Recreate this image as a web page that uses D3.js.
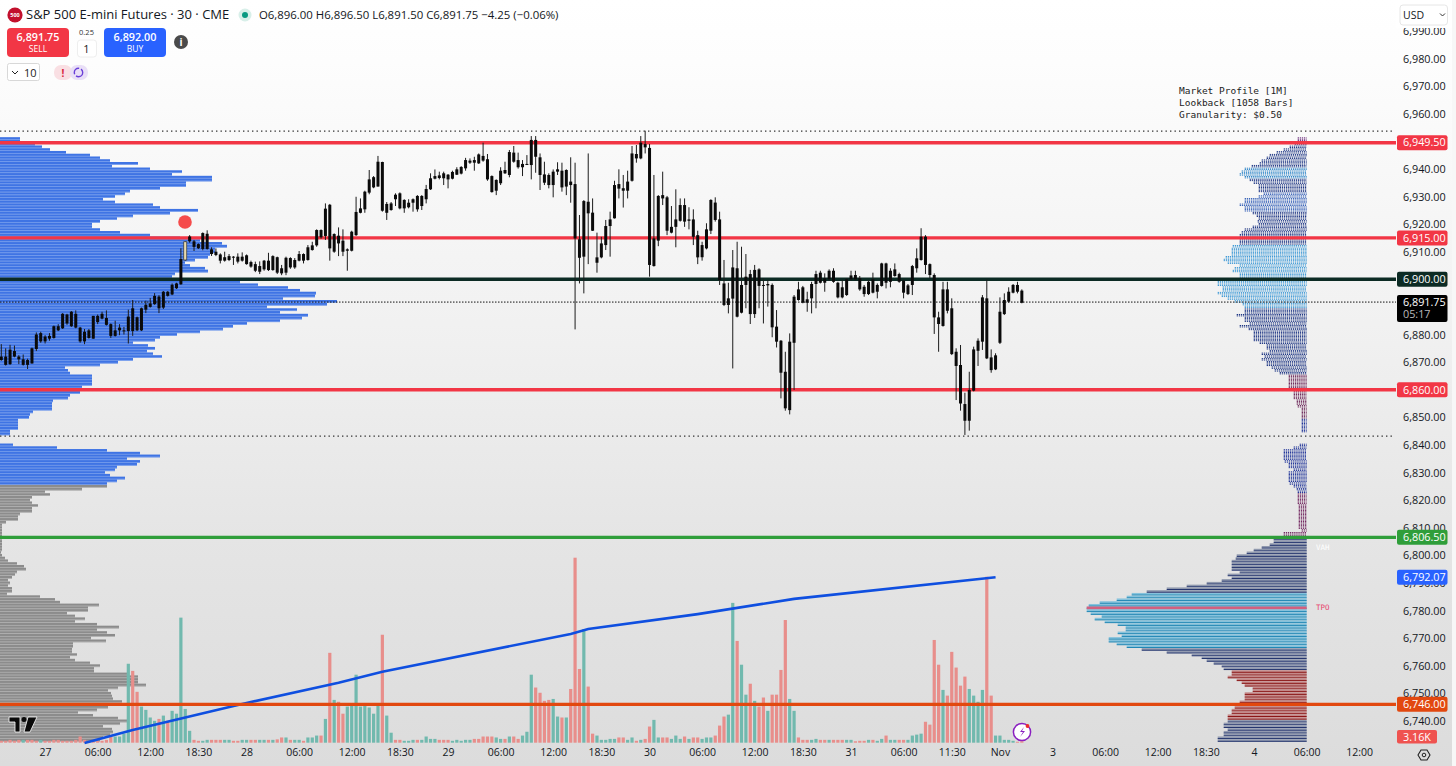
<!DOCTYPE html>
<html>
<head>
<meta charset="utf-8">
<script src="https://cdn.jsdelivr.net/npm/d3@7"></script>
<style>
html, body { margin: 0; padding: 0; background: #fff; overflow: hidden; }
svg text { font-family: "Open Sans", "Noto Sans", sans-serif; }
svg .mono { font-family: "DejaVu Sans Mono", monospace; }
</style>
</head>
<body>
<div id="chart"></div>
<script>
// 30 minute bars, index 0 is the left most bar on the picture
var highs = [6876.5,6875,6876.25,6876,6872.5,6872.75,6871.25,6875.25,6880.75,6881,6879.75,6880.5,6883.25,6883.75,6887.75,6887.5,6888.5,6888.75,6882.75,6882,
6882,6886.75,6887.25,6888.25,6888.75,6884,6885,6883.75,6882.75,6889,6892.5,6886.5,6889.75,6892.25,6893.25,6895,6894.25,6895.75,6895.75,6898.5,
6898.75,6911.25,6913.75,6916,6914.25,6913,6917,6917.75,6911.6,6911.2,6909.4,6910,6909.15,6908.4,6909.4,6909.75,6909,6906.75,6906.4,6906.5,
6907,6909.6,6908.7,6908.2,6905.2,6908.2,6908,6907.7,6910.25,6909.4,6912.4,6913.6,6918.1,6918.1,6927.5,6927.3,6916.65,6918.8,6918.1,6911.2,
6917.6,6929.9,6929.3,6932.1,6939.6,6937.4,6944.7,6942.6,6928,6928,6931.15,6931.5,6929,6929,6929.3,6930.5,6930.5,6934.2,6938.4,6939.8,
6939,6939,6938.15,6939.35,6940.6,6941,6944,6943.8,6944.4,6945.6,6949.5,6945.4,6937.65,6936.2,6940.6,6942.6,6946.85,6948.3,6945.9,6943.2,
6945,6951.9,6951.9,6945.6,6942.6,6938.4,6939.8,6942.4,6942.25,6939.85,6944.2,6942.25,6923.3,6928.7,6945.6,6929.3,6916.9,6915.4,6921.5,6924.5,
6935.7,6939.85,6937.8,6939.35,6948.3,6948.65,6951.9,6953.85,6949,6937.8,6930.5,6939,6930.2,6926.55,6932.6,6929.3,6929.3,6926.1,6925.35,6917.6,
6913.6,6920.3,6929,6929.7,6924.5,6907,6898.75,6910.6,6913.6,6911.8,6909.15,6903.4,6905.2,6904,6900.35,6899.75,6898.5,6888.85,6878,6873.75,
6880.4,6894.3,6899.1,6897.6,6895.5,6899.1,6903.1,6903.1,6902.15,6903.6,6904,6899.1,6899.75,6900.35,6903.1,6903.1,6901.2,6897.95,6899.75,6902.4,
6898.5,6906,6906,6904,6905.75,6902.4,6900,6898.3,6905.2,6911.2,6918.5,6916,6905.75,6902.15,6888.25,6899.1,6899.1,6893.1,6875,6876.2,
6858.9,6866.5,6875.6,6878.6,6894.3,6900,6874.6,6873.2,6893.45,6894.9,6897.1,6898.3,6899.1,6896.35];
var lows = [6870.5,6868.75,6869,6871.75,6869.25,6868.75,6867.5,6869.5,6874,6877,6876.75,6877.75,6878.5,6881.25,6882,6883.5,6882.75,6882.25,6877,6876.5,
6878.5,6878.5,6883.75,6885.5,6883.25,6878.75,6879.25,6879.75,6880,6876.75,6879.5,6881.25,6881.25,6887.75,6889.75,6890.75,6887.75,6889.25,6893.75,6894.25,
6896.5,6898,6906.75,6913.25,6910.25,6911,6910.5,6910.75,6908.45,6908.4,6905.75,6906.4,6906.6,6905.2,6905.75,6906.4,6905.3,6904.2,6902.6,6901.9,
6903.1,6903,6903.1,6901.9,6901.5,6901.5,6903.8,6903.8,6906.5,6905.75,6906.75,6910.4,6911.8,6914.7,6914.25,6906.75,6909.6,6908.4,6908.4,6903.1,
6910.1,6915.7,6923.9,6924.1,6930.8,6933,6933.6,6924.5,6921.5,6924.85,6926.55,6925.35,6924.1,6925.7,6924.5,6924.5,6925.1,6927.5,6932.35,6936.2,
6936.2,6934.15,6932.95,6936.2,6937.8,6938,6939.35,6941.8,6939.35,6941.8,6942.6,6935.7,6931.4,6930.5,6934.15,6938.15,6936.95,6942.25,6940.1,6937.4,
6941.4,6936.2,6938.6,6932.35,6934.15,6932.95,6929.7,6937.8,6931.75,6930.5,6927.75,6881.85,6898.5,6894.9,6905.5,6917.5,6902.4,6907.6,6910.6,6908.2,
6922,6929.3,6926,6929.3,6935.4,6942.25,6943.5,6945.6,6900.95,6904.6,6912,6926.9,6916,6916.65,6911.6,6920.9,6919,6918.1,6912.4,6905.5,
6906.75,6910.85,6916.4,6920.9,6897.95,6890.3,6887.65,6867.7,6886.2,6887.65,6889.5,6883.8,6886,6889.5,6884,6890.1,6879,6875.3,6856.85,6852.4,
6851.05,6859.9,6892.25,6891.3,6888.25,6887.65,6889.5,6898.5,6895.5,6899.5,6898.75,6893.1,6893.1,6894,6899.5,6899.5,6895.85,6893.7,6894.3,6894.9,
6893.1,6897.35,6896.7,6897.1,6900.95,6898.75,6893.1,6894.3,6894.3,6902.4,6906.75,6901.9,6900.35,6880.2,6873.75,6882.85,6887.65,6872.55,6856.25,6852.4,
6843.6,6845.15,6859.4,6868.6,6874.4,6871.1,6866.15,6867.1,6876.55,6887.05,6891.5,6894.9,6894.9,6891.3];
var bodyHighs = [6872,6872,6874.5,6874,6872,6871,6870.75,6875,6880,6880.5,6879.25,6879.5,6883,6883,6887.5,6887.25,6888.25,6887.5,6882.5,6881,
6881.5,6886.75,6886.75,6887.5,6886,6883.75,6881.5,6882.5,6881.5,6886.5,6889.5,6886.25,6889.5,6890.75,6891.25,6894,6893.75,6895.5,6895.5,6898,
6898.5,6907.35,6913.6,6915.5,6913.75,6912.75,6916.75,6916.5,6910.85,6910,6909,6908,6908.4,6908.2,6908.2,6908.2,6908.7,6906.25,6905.5,6904.8,
6906.75,6906.75,6908.4,6908,6904,6907.8,6907.7,6907,6909.15,6909.15,6911.6,6912.3,6917.85,6917.85,6925.6,6927,6916.4,6915.8,6914,6910.85,
6917.25,6924.4,6925.7,6931.75,6936.2,6937,6942.6,6942.5,6927.3,6927.5,6930.65,6931.15,6928.75,6927.75,6929,6930.2,6930.2,6932.7,6936.6,6937.4,
6937.65,6938.4,6937.9,6938.9,6939.85,6940.7,6943.2,6943,6943.2,6945.25,6944.7,6943.5,6937.4,6936,6939.35,6939.6,6946.1,6945.9,6943.2,6941.8,
6941.8,6950.5,6950.5,6944.2,6938,6937.8,6939,6939.85,6939.35,6939.6,6935.4,6934.5,6914.5,6928.35,6928.1,6924.15,6907.95,6913,6919.3,6921.7,
6934.15,6934.5,6933,6935.4,6945.6,6945.4,6949.5,6949,6947.6,6914.8,6930.2,6930.5,6929.7,6919,6921.7,6926.9,6926.9,6921.7,6921.7,6916,
6912.4,6918.1,6928.75,6927.8,6921.7,6898.5,6893.1,6904.3,6904,6897.95,6900.95,6901.9,6903.4,6903.6,6897.95,6898.3,6897.95,6882.85,6877.75,6866.5,
6877.4,6893.7,6896.35,6897.1,6892.75,6898.3,6901.9,6902.4,6900.35,6903.1,6903.1,6898.75,6897.1,6900,6901.4,6901.55,6900.35,6897.3,6899.1,6900,
6897.95,6905.75,6905.75,6903.1,6903.6,6901.9,6899.5,6897.8,6904.8,6907.6,6915.45,6915.45,6905.5,6901.55,6886.2,6896.35,6896.35,6889.5,6873.75,6868.95,
6854.8,6859.9,6874.6,6877.75,6893.45,6893.1,6871.7,6872.45,6888.25,6892.5,6895.5,6897.95,6897.95,6895.9];
var bodyLows = [6870.75,6869,6869.25,6872,6871,6869,6869,6869.5,6874.75,6877.5,6877.5,6878.5,6878.75,6881.5,6882.25,6884,6883,6882.5,6877.5,6877.5,
6878.75,6878.5,6884.5,6885.75,6883.5,6879.5,6879.5,6881.5,6881.25,6881.25,6881.25,6881.5,6881.5,6889,6890,6891,6889.5,6889.75,6894,6894.5,
6896.75,6898.2,6907,6913.75,6911.75,6911.25,6911,6911,6909.15,6908.8,6906.75,6906.75,6907,6908,6906.4,6906.75,6905.5,6904.6,6903.1,6902.75,
6903.6,6903.35,6903.35,6902.4,6902.15,6902.4,6904.3,6904.3,6906.75,6906.75,6907,6910.6,6912.3,6915.2,6915.7,6911.2,6910,6913,6910,6910.35,
6910.35,6916,6924.1,6925.35,6931.4,6933.3,6933.6,6924.85,6924.1,6925.1,6929,6925.7,6925.7,6926.1,6927.75,6925.35,6926.55,6929,6932.6,6936.45,
6936.7,6936.6,6936.2,6936.45,6937.9,6938.3,6940.2,6942.25,6942.25,6942,6943,6936.2,6931.6,6932.1,6934.8,6938.4,6937.8,6942.6,6940.6,6940.6,
6941.5,6941.4,6944.4,6937.8,6935,6934.15,6934.15,6939,6933.3,6933.6,6934.15,6914.8,6907.8,6908.2,6923.9,6917.6,6906,6907.95,6912.4,6919.3,
6922.1,6932.85,6932.1,6932.1,6935.7,6943.8,6943.8,6947.8,6905.2,6904.8,6914,6929.3,6917.6,6916.9,6919,6921.2,6920.9,6921.2,6915.4,6907.95,
6908,6911.2,6917.6,6921.5,6899.75,6890.7,6890.7,6893,6886.45,6887.9,6897.95,6887.4,6887.4,6897.6,6897.6,6897.8,6882.6,6877.4,6866.15,6853.25,
6852.6,6877,6892.5,6891.5,6891.5,6893.1,6898.3,6898.75,6898.75,6900,6899.1,6893.45,6893.45,6894.3,6900,6900,6896.35,6894.65,6894.65,6895.15,
6895.5,6897.6,6898.75,6899.1,6901.2,6899.1,6895.15,6894.65,6897.95,6904,6907,6905.2,6901.55,6886.2,6883.8,6883.1,6888.6,6872.9,6868.6,6855,
6848.75,6848.75,6859.65,6874.1,6877.4,6871.35,6867.1,6867.35,6877,6887.4,6891.9,6895.15,6895.5,6891.5];

// volume in thousands, the last one is the 3.16K of the pane label
var volumes = [4,4,6,4,6,6,6,6,4,6,4,4,6,6,4,4,4,6,13,6,4,6,4,4,6,
13,13,13,19,166,151,107,76,69,53,46,50,57,46,67,61,263,71,25,6,4,4,6,6,6,6,6,6,4,4,6,6,6,6,6,6,6,6,7,11,11,6,6,6,4,11,11,15,15,50,189,90,86,61,76,
80,143,76,78,74,61,78,227,57,21,6,6,4,4,6,6,6,13,8,8,6,6,6,4,6,4,6,6,8,8,13,13,13,11,8,8,13,13,8,15,23,143,116,105,88,90,92,55,53,53,113,389,155,239,118,19,15,6,6,8,8,11,11,6,11,4,6,8,34,48,11,11,11,8,15,8,13,8,11,11,
8,11,11,15,36,55,59,294,214,164,101,124,88,76,95,67,101,101,153,258,92,67,11,6,6,6,8,6,6,6,6,6,6,6,6,3,4,4,6,6,4,8,15,6,6,6,6,6,15,17,19,44,38,216,164,111,99,191,158,120,139,113,99,86,111,349,99,15,15,6,6,4,2,3.16];
// u = up bar, d = down bar, ten bars per piece
var volumeDir = ["dddddudddu","dddddddddd","dddddduuuu","dduuuududu","uuuudduudd","duudduuddu","ududduduud","uuudududdu",
    "uuuuuuuduu","dduuuduuuu","ddduuuuudd","ddduududdu","uudddduudu","dddudduuuu","udduududdu","udduuududd",
    "uuuddduudu","ududdudddd","uuddduuddu","ddduudddud","uuduudduuu","uddddudddd","duuuudduuu","uudd"].join("");

var timeTicks = [10,22,34,45,56,68,80,91,102,114,126,137,148,160,172,183,194,206,217,228,240,252,264,275,286,298,310];
var timeLabels = ["27","06:00","12:00","18:30","28","06:00","12:00","18:30","29","06:00","12:00","18:30","30","06:00","12:00","18:30","31","06:00","11:30","Nov","3","06:00","12:00","18:30","4","06:00","12:00"];
// 6,860 6,890 and 6,900 sit fully behind the price tags
var priceTicks = [6990,6980,6970,6960,6940,6930,6920,6910,6880,6870,6850,6840,6830,6820,6810,6800,6790,6780,6770,6760,6750,6740];

// anchored vwap, bar index and price
var vwapBars = [19,30,54,77,87,130,134,159,181,227];
var vwapPrices = [6732,6736.7,6745.8,6753.8,6757.8,6771.5,6773.3,6778.7,6784.2,6792.07];

var levelPrices = [6949.5,6915,6900,6860,6806.5,6746];
var levelNames = ["red","red","dark","red","green","orange"];
var dottedPrices = [6953.7,6843.2];
var lastPrice = 6891.75;

// volume at price, one row per point, first row is profileTop
var profileTop = 6951;
var leftProfile = [20,20,35,42,50,66,90,100,110,138,112,150,182,172,212,212,186,186,160,130,125,115,103,115,153,160,198,170,133,117,100,92,92,100,120,150,180,200,222,227,
215,215,210,208,195,185,190,205,208,175,172,180,
240,258,288,300,316,315,283,337,327,267,297,280,308,302,280,247,233,223,200,177,160,155,133,148,155,147,153,162,133,118,100,65,68,70,92,92,92,92,82,76,
80,70,68,53,52,52,52,33,30,29,18,18,18,18,10,10,0,0,0,13,57,107,140,160,127,140,137,117,115,105,110,125,117,107,107,82,45,50,32,30,32,38,32,32,20,18,18,6,2,2,2,2,2,2,2,2,2,2,1,2,
5,8,17,24,26,17,15,12,8,10,8,12,12,7,40,55,60,99,88,88,67,75,85,75,97,119,97,107,115,91,106,73,73,72,72,77,70,75,90,100,94,94,128,138,138,138,146,118,108,111,112,113,122,113,108,97,78,93,118,128,120,103,112,113,110,103,100];
var rightProfile = [9,9,12,17,23,30,37,40,45,47,55,62,65,67,62,57,53,48,48,48,43,48,62,62,67,62,62,54,50,48,49,48,54,62,65,67,67,67,67,74,75,
75,75,81,83,79,67,72,74,67,67,67,
89,89,84,84,89,85,79,72,64,62,62,62,70,62,62,57,67,58,53,53,53,53,47,40,40,37,45,42,45,40,40,35,32,27,18,18,18,18,18,18,
13,13,13,10,10,9,5,5,5,5,5,5,5,5,5,0,0,0,0,7,13,23,23,23,23,22,18,18,13,18,18,18,18,17,13,10,9,9,9,9,9,8,8,8,8,8,8,8,8,8,5,23,23,33,33,37,45,53,60,70,71,
75,75,75,75,67,79,75,85,100,120,140,160,175,180,190,207,218,220,220,216,205,212,202,189,181,181,189,185,198,198,190,180,165,140,115,105,100,93,85,83,75,75,79,70,65,62,54,54,62,62,62,67,67,72,75,75,79,79,79,83,83,79,83,83,89,89];

var WIDTH = 1456, HEIGHT = 766;
var BAR_W = 3, VOL_W = 3.2, PLOT_R = 1396, AXIS_TEXT_X = 1403;

var x = d3.scaleLinear().domain([0, 310]).range([1.3, 1359.1]);
var y = d3.scaleLinear().domain([6990, 6740]).range([30.9, 720.9]);
var volH = d3.scaleLinear().domain([0, 389]).range([0, 185]);
var leftW = d3.scaleLinear().domain([0, d3.max(leftProfile)]).range([0, 337]);
var rightW = d3.scaleLinear().domain([0, d3.max(rightProfile)]).range([0, 220]);
var money = d3.format(",.2f");
var VOL_BASE = 742.7, RIGHT_EDGE = 1306.7;
var ROW = Math.abs(y(1) - y(0));

var LEVEL_COLOR = {red: "#f23645", dark: "#0c2b24", green: "#2f9e3a", orange: "#e2480f"};

var svg = d3.select("#chart").append("svg").attr("width", WIDTH).attr("height", HEIGHT).style("display", "block");

var grad = svg.append("defs").append("linearGradient").attr("id", "bg").attr("x1", 0).attr("x2", 0).attr("y1", 0).attr("y2", 1);
[[0, "#ffffff"], [0.08, "#fdfdfd"], [0.45, "#f0f0f0"], [0.7, "#e5e5e5"], [1, "#dcdcdc"]].forEach(function(s){
    grad.append("stop").attr("offset", s[0]).attr("stop-color", s[1]);
});
svg.append("rect").attr("width", WIDTH).attr("height", HEIGHT).attr("fill", "url(#bg)");

// left profile, solid rows with a paler seam between them
var left = svg.append("g").attr("id", "left-profile");
leftProfile.forEach(function(d, i){
    var p = profileTop - i, blue = p >= 6826;
    left.append("rect").attr("x", 0).attr("y", y(p) - ROW / 2)
        .attr("width", leftW(d)).attr("height", ROW)
        .attr("fill", blue ? "#3f74e4" : "#8c8c8c");
    left.append("rect").attr("x", 0).attr("y", y(p) + ROW / 2 - 0.7)
        .attr("width", leftW(d)).attr("height", 0.7)
        .attr("fill", blue ? "#86a9ef" : "#bcbcbc");
});

// right profile, dotted above the value rows
var right = svg.append("g").attr("id", "right-profile");
function rightColor(p){
    if (p >= 6950) return "#6a2a7a";
    if (p >= 6937 && p <= 6940) return "#2f86c8";
    if (p >= 6925 && p <= 6931) return "#3560b8";
    if (p >= 6890 && p <= 6912) return "#3f9ad6";
    if (p >= 6866) return "#1f3785";
    if (p >= 6850) return "#6f2b5c";
    if (p >= 6823) return "#23379a";
    if (p >= 6807) return "#742a62";
    if (p >= 6787) return "#23346e";
    if (p >= 6767) return "#1f86b4";
    if (p >= 6759) return "#23346e";
    if (p >= 6741) return "#8a1414";
    return "#23346e";
}
function rightFill(p){
    if (p >= 6787) return "#8f98ad";
    if (p >= 6767) return "#86c2dc";
    if (p >= 6759) return "#939bb0";
    if (p >= 6741) return "#c48a8a";
    return "#939bb0";
}
rightProfile.forEach(function(d, i){
    var p = profileTop - i, top = y(p);
    if (!d) return;
    if (p >= 6807){
        [top - ROW / 4, top + ROW / 4].forEach(function(ry){
            right.append("line").attr("x1", RIGHT_EDGE - rightW(d)).attr("x2", RIGHT_EDGE)
                .attr("y1", ry).attr("y2", ry)
                .attr("stroke", rightColor(p)).attr("stroke-width", 1).attr("stroke-dasharray", "1.3 0.8");
        });
    } else {
        right.append("rect").attr("x", RIGHT_EDGE - rightW(d)).attr("y", top - 1)
            .attr("width", rightW(d)).attr("height", 2)
            .attr("fill", rightFill(p));
        right.append("rect").attr("x", RIGHT_EDGE - rightW(d)).attr("y", top + 0.6)
            .attr("width", rightW(d)).attr("height", 1)
            .attr("fill", rightColor(p));
    }
});
// point of control row
right.append("rect").attr("x", RIGHT_EDGE - rightW(220)).attr("y", y(6781) - 1.2)
    .attr("width", rightW(220)).attr("height", 2.6).attr("fill", "#d2607f");
svg.append("text").attr("class", "mono").attr("x", 1316).attr("y", 610).attr("font-size", 7.5).attr("fill", "#e8466e").text("TPO");
svg.append("text").attr("class", "mono").attr("x", 1316).attr("y", 550).attr("font-size", 7.5).attr("fill", "#ffffff").text("VAH");

// volume pane
svg.append("g").attr("id", "volume").selectAll("rect").data(volumes).enter().append("rect")
    .attr("x", function(d, i){ return x(i) - VOL_W / 2; })
    .attr("y", function(d){ return VOL_BASE - volH(d); })
    .attr("width", VOL_W)
    .attr("height", function(d){ return volH(d); })
    .attr("fill", function(d, i){ return volumeDir[i] === "u" ? "#71b9ae" : "#e88e8b"; });

// vwap
var vwapLine = d3.line().x(function(d){ return x(d[0]); }).y(function(d){ return y(d[1]); });
svg.append("path").datum(d3.zip(vwapBars, vwapPrices))
    .attr("d", vwapLine).attr("fill", "none").attr("stroke", "#0f4fe0").attr("stroke-width", 2.6);

// horizontal levels
svg.append("g").selectAll("line").data(dottedPrices).enter().append("line")
    .attr("x1", 0).attr("x2", 1393)
    .attr("y1", function(d){ return y(d); }).attr("y2", function(d){ return y(d); })
    .attr("stroke", "#333").attr("stroke-width", 1.3).attr("stroke-dasharray", "1.4 3.1");
svg.append("line").attr("x1", 0).attr("x2", PLOT_R).attr("y1", y(lastPrice)).attr("y2", y(lastPrice))
    .attr("stroke", "#111").attr("stroke-width", 1).attr("stroke-dasharray", "1.5 1.5");
svg.append("g").selectAll("line").data(levelPrices).enter().append("line")
    .attr("x1", 0).attr("x2", PLOT_R)
    .attr("y1", function(d){ return y(d); }).attr("y2", function(d){ return y(d); })
    .attr("stroke", function(d, i){ return LEVEL_COLOR[levelNames[i]]; })
    .attr("stroke-width", 3.4);

// candles, all black on this chart
var candles = svg.append("g").attr("id", "candles");
highs.forEach(function(h, i){
    candles.append("line").attr("x1", x(i)).attr("x2", x(i)).attr("y1", y(h)).attr("y2", y(lows[i]))
        .attr("stroke", "#1c1c1c").attr("stroke-width", 1);
    candles.append("rect").attr("x", x(i) - BAR_W / 2).attr("y", y(bodyHighs[i]))
        .attr("width", BAR_W).attr("height", Math.max(1, y(bodyLows[i]) - y(bodyHighs[i])))
        .attr("fill", i === 42 ? "#e9dcae" : "#0a0a0a")
        .attr("stroke", i === 42 ? "#333" : "none").attr("stroke-width", 0.7);
});

svg.append("circle").attr("cx", 185).attr("cy", 222).attr("r", 6.8).attr("fill", "#f54b4b");

// axes
var timeAxis = d3.axisBottom(x).tickValues(timeTicks).tickSize(0).tickPadding(0)
    .tickFormat(function(d, i){ return timeLabels[i]; });
var gx = svg.append("g").attr("transform", "translate(0,749)").call(timeAxis);
gx.select(".domain").remove();
gx.selectAll("text").attr("font-size", 10.5).attr("fill", "#131722").attr("dy", "0.71em");

var priceAxis = d3.axisRight(y).tickValues(priceTicks).tickSize(0).tickPadding(0).tickFormat(money);
var gy = svg.append("g").attr("transform", "translate(" + AXIS_TEXT_X + ",0)").call(priceAxis);
gy.select(".domain").remove();
gy.selectAll("text").attr("font-size", 10.8).attr("fill", "#131722").attr("dy", "0.34em");

// price labels
function priceTag(p, color, txt, h){
    var t = y(p) - (h || 15) / 2;
    svg.append("rect").attr("x", 1397).attr("y", t).attr("width", 50.5).attr("height", h || 15).attr("rx", 2).attr("fill", color);
    svg.append("text").attr("x", AXIS_TEXT_X).attr("y", y(p) + 3.8).attr("font-size", 10.8).attr("fill", "#fff").text(txt);
}
levelPrices.forEach(function(p, i){ priceTag(p, LEVEL_COLOR[levelNames[i]], money(p)); });
priceTag(6792.07, "#2962ff", money(6792.07));
svg.append("rect").attr("x", 1397).attr("y", 295).attr("width", 50.5).attr("height", 27).attr("rx", 2).attr("fill", "#000");
svg.append("text").attr("x", AXIS_TEXT_X).attr("y", 306).attr("font-size", 10.8).attr("fill", "#fff").text(money(lastPrice));
svg.append("text").attr("x", AXIS_TEXT_X).attr("y", 318).attr("font-size", 10.8).attr("fill", "#bbb").text("05:17");
svg.append("rect").attr("x", 1397).attr("y", 730).attr("width", 40).attr("height", 13.5).attr("rx", 2).attr("fill", "#ef5350");
svg.append("text").attr("x", 1403).attr("y", 740.8).attr("font-size", 10.8).attr("fill", "#fff").text("3.16K");

// currency box on top of the first tick
svg.append("rect").attr("x", 1396).attr("y", 0).attr("width", 60).attr("height", 28).attr("fill", "#fff");
svg.append("rect").attr("x", 1400).attr("y", 5).attr("width", 47.5).attr("height", 20).attr("rx", 3).attr("fill", "#fff").attr("stroke", "#e6e6e6");
svg.append("text").attr("x", 1403).attr("y", 18.5).attr("font-size", 10.5).attr("fill", "#131722").text("USD");
svg.append("path").attr("d", "M1440 13.5l2.5 2.5 2.5-2.5").attr("fill", "none").attr("stroke", "#333");
svg.append("rect").attr("x", 1452).attr("y", 0).attr("width", 4).attr("height", HEIGHT).attr("fill", "#f7f7f7");

// settings icon in the axis corner
svg.append("path").attr("d", "M1418 755l3-5h6l3 5-3 5h-6z").attr("fill", "none").attr("stroke", "#222").attr("stroke-width", 1.1);
svg.append("circle").attr("cx", 1424).attr("cy", 755).attr("r", 1.8).attr("fill", "none").attr("stroke", "#222");

// header
svg.append("circle").attr("cx", 15).attr("cy", 15).attr("r", 7.6).attr("fill", "#c2102c");
svg.append("text").attr("x", 15).attr("y", 17).attr("text-anchor", "middle").attr("font-size", 5.5).attr("font-weight", 700).attr("fill", "#fff").text("500");
svg.append("text").attr("x", 26).attr("y", 19).attr("font-size", 13).attr("fill", "#131722").text("S&P 500 E-mini Futures · 30 · CME");
svg.append("circle").attr("cx", 245).attr("cy", 15).attr("r", 6.5).attr("fill", "#d8efe9");
svg.append("circle").attr("cx", 245).attr("cy", 15).attr("r", 3).attr("fill", "#089981");
svg.append("text").attr("x", 259).attr("y", 19).attr("font-size", 11.4).attr("fill", "#131722").text("O6,896.00 H6,896.50 L6,891.50 C6,891.75 −4.25 (−0.06%)");

function button(x0, w, color, top, bot){
    svg.append("rect").attr("x", x0).attr("y", 28).attr("width", w).attr("height", 29).attr("rx", 4).attr("fill", color);
    svg.append("text").attr("x", x0 + w / 2).attr("y", 40.5).attr("text-anchor", "middle").attr("font-size", 10.8).attr("font-weight", 600).attr("fill", "#fff").text(top);
    svg.append("text").attr("x", x0 + w / 2).attr("y", 51.5).attr("text-anchor", "middle").attr("font-size", 8.5).attr("fill", "#fff").text(bot);
}
button(7, 62, "#f23645", "6,891.75", "SELL");
button(104, 62, "#2962ff", "6,892.00", "BUY");
svg.append("text").attr("x", 86.5).attr("y", 35).attr("text-anchor", "middle").attr("font-size", 7.5).attr("fill", "#333").text("0.25");
svg.append("rect").attr("x", 77.5).attr("y", 40).attr("width", 19).attr("height", 17).attr("rx", 3).attr("fill", "#fff").attr("stroke", "#eee");
svg.append("text").attr("x", 86.5).attr("y", 52.5).attr("text-anchor", "middle").attr("font-size", 11).attr("fill", "#222").text("1");
svg.append("circle").attr("cx", 181).attr("cy", 42).attr("r", 7).attr("fill", "#4a4a4a");
svg.append("text").attr("x", 181).attr("y", 46).attr("text-anchor", "middle").attr("font-size", 10).attr("font-weight", 700).attr("fill", "#fff").text("i");

svg.append("rect").attr("x", 7.5).attr("y", 63.5).attr("width", 32).attr("height", 17).attr("rx", 2).attr("fill", "#fff").attr("stroke", "#d8d8d8");
svg.append("path").attr("d", "M12 71l3 3 3-3").attr("fill", "none").attr("stroke", "#222");
svg.append("text").attr("x", 24).attr("y", 76.5).attr("font-size", 11).attr("fill", "#222").text("10");
svg.append("rect").attr("x", 54).attr("y", 65).attr("width", 18).attr("height", 15).attr("rx", 7).attr("fill", "#f9dfe3");
svg.append("rect").attr("x", 70).attr("y", 65).attr("width", 18).attr("height", 15).attr("rx", 7).attr("fill", "#e9dff7");
svg.append("text").attr("x", 63).attr("y", 76.5).attr("text-anchor", "middle").attr("font-size", 10).attr("font-weight", 700).attr("fill", "#d81b3c").text("!");
svg.append("circle").attr("cx", 78.5).attr("cy", 72.5).attr("r", 4.2).attr("fill", "none").attr("stroke", "#6a3fd8").attr("stroke-width", 1.4).attr("stroke-dasharray", "9 2");

// indicator note
["Market Profile [1M]", "Lookback [1058 Bars]", "Granularity: $0.50"].forEach(function(t, i){
    svg.append("text").attr("class", "mono").attr("x", 1179).attr("y", 94 + i * 12.2).attr("font-size", 9.5).attr("fill", "#222").text(t);
});

// tradingview mark
svg.append("path").attr("d", "M9 717h11v15h-5v-10H9z M28 717h9l-7 15h-6z").attr("fill", "#0a0a0a").attr("stroke", "#fff").attr("stroke-width", 0.8);
svg.append("circle").attr("cx", 24).attr("cy", 719.5).attr("r", 2.5).attr("fill", "#0a0a0a");

// bolt badge
svg.append("circle").attr("cx", 1022).attr("cy", 732).attr("r", 8.6).attr("fill", "#fff").attr("stroke", "#8a1fc0").attr("stroke-width", 1.5);
svg.append("path").attr("d", "M1024 727l-4 5h3l-3 5 5-6h-3z").attr("fill", "#8a1fc0");
svg.append("circle").attr("cx", 1027.5).attr("cy", 726).attr("r", 1.9).attr("fill", "#ef2b2b");
</script>
</body>
</html>
